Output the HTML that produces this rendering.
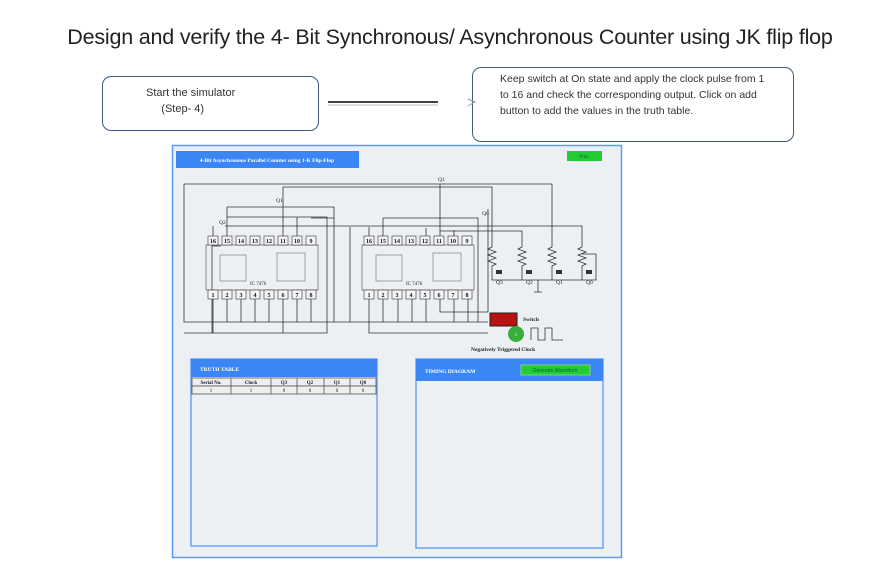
<!DOCTYPE html>
<html><head><meta charset="utf-8"><style>
body{margin:0;width:884px;height:569px;background:#fff;position:relative;overflow:hidden;font-family:"Liberation Sans",sans-serif}
.t{position:absolute;left:0;width:884px;top:25px;text-align:center;font-size:21.5px;color:#222;padding-left:8px;letter-spacing:-0.2px}
.b{position:absolute;border:1px solid #3c5a86;border-radius:9px;background:#fff;font-size:11px;color:#333}
</style></head><body>
<div class="t">Design and verify the 4- Bit Synchronous/ Asynchronous Counter using JK flip flop</div>
<div class="b" style="left:102px;top:76px;width:215px;height:53px"><div style="position:absolute;left:43px;top:8px;line-height:16px">Start the simulator<br>&nbsp;&nbsp;&nbsp;&nbsp;&nbsp;(Step- 4)</div></div>
<div class="b" style="left:472px;top:67px;width:320px;height:73px"><div style="position:absolute;left:27px;top:3px;line-height:16px;width:268px;font-size:10.5px">Keep switch at On state and apply the clock pulse from 1 to 16 and check the corresponding output. Click on add button to add the values in the truth table.</div></div>
<svg style="position:absolute;left:0;top:0" width="884" height="569" font-family="Liberation Serif,serif">
<line x1="328" y1="102" x2="438" y2="102" stroke="#000" stroke-width="1.5"/>
<line x1="328" y1="105" x2="438" y2="105" stroke="#bbb" stroke-width="1"/>
<path d="M468 99 L475 102 L468 106" fill="none" stroke="#999"/>
<rect x="172.5" y="145.5" width="449" height="412" fill="#eceff4" stroke="#5b9bf5" stroke-width="1.5"/>
<rect x="176" y="151" width="183" height="17" fill="#3a86f5"/>
<text x="267" y="162" font-size="5.5" font-weight="bold" fill="#fff" text-anchor="middle">4-Bit Asynchronous Parallel Counter using J-K Flip-Flop</text>
<rect x="567" y="151" width="35" height="10" fill="#22cc33"/>
<text x="584" y="158" font-size="5" fill="#063" text-anchor="middle">Print</text>
<g stroke="#333" stroke-width="0.8" fill="none">
<path d="M184 184 H552 M184 184 V322 H488 M184 333 H213 M227 217 H327 V333 H184 M221 246 H212 V333"/>
<path d="M283 187 V236 M283 187 H492 V236 M440 184 V236 M552 184 V236"/>
<path d="M227 207 H334 V322 M227 207 V236 M213 226 V236 M225 226 H582 V236 M297 217 V236 M311 218 H334"/>
<path d="M350 227 V322 M369 227 V236 M383 218 H478 V322 M383 218 V236 M426 228 V236 M454 230 V236 M488 209 V312 H440 V299 M440 231 H522 V236"/>
<path d="M369 299 V333 H488 M213 299 V333 M227 299 V322 M241 299 V322 M255 299 V322 M269 299 V322 M283 299 V333 M297 299 V322 M311 299 V322 M383 299 V322 M398 299 V322 M412 299 V322 M426 299 V322 M454 299 V322 M468 299 V322"/>
<path d="M492 268 V280 H582 V268 M522 268 V280 M552 268 V280 M582 254 H596 V280 H582 M538 280 V292 M534 292 H542"/>
<path d="M492 236 V247 l-4 2 8 3 -8 3 8 3 -8 3 8 3 -4 2 V268 M522 236 V247 l-4 2 8 3 -8 3 8 3 -8 3 8 3 -4 2 V268 M552 236 V247 l-4 2 8 3 -8 3 8 3 -8 3 8 3 -4 2 V268 M582 236 V247 l-4 2 8 3 -8 3 8 3 -8 3 8 3 -4 2 V268"/>
<path d="M531 340 V328 H538 V340 H545 V328 H552 V340 H563"/>
</g>
<g fill="#333"><rect x="496" y="270" width="6" height="4"/><rect x="526" y="270" width="6" height="4"/><rect x="556" y="270" width="6" height="4"/><rect x="586" y="270" width="6" height="4"/></g>
<g font-size="5.5" fill="#222"><text x="438" y="181">Q1</text><text x="276" y="202">Q1</text><text x="219" y="224">Q2</text><text x="482" y="215">Q0</text>
<text x="496" y="284">Q3</text><text x="526" y="284">Q2</text><text x="556" y="284">Q1</text><text x="586" y="284">Q0</text>
<text x="523" y="321" font-weight="bold">Switch</text><text x="471" y="351" font-weight="bold">Negatively Triggered Clock</text></g>
<g id="c1">
<rect x="206" y="245" width="112" height="45" fill="none" stroke="#444" stroke-width="0.6"/>
<rect x="220" y="255" width="26" height="26" fill="none" stroke="#555" stroke-width="0.5"/>
<rect x="277" y="253" width="28" height="28" fill="none" stroke="#555" stroke-width="0.5"/>
<text x="250" y="285" font-size="5" fill="#222">IC 7476</text>
<g fill="#f4f4f4" stroke="#333" stroke-width="0.6">
<rect x="208" y="236" width="10" height="9"/><rect x="222" y="236" width="10" height="9"/><rect x="236" y="236" width="10" height="9"/><rect x="250" y="236" width="10" height="9"/><rect x="264" y="236" width="10" height="9"/><rect x="278" y="236" width="10" height="9"/><rect x="292" y="236" width="10" height="9"/><rect x="306" y="236" width="10" height="9"/>
<rect x="208" y="290" width="10" height="9"/><rect x="222" y="290" width="10" height="9"/><rect x="236" y="290" width="10" height="9"/><rect x="250" y="290" width="10" height="9"/><rect x="264" y="290" width="10" height="9"/><rect x="278" y="290" width="10" height="9"/><rect x="292" y="290" width="10" height="9"/><rect x="306" y="290" width="10" height="9"/></g>
<g font-size="6" font-weight="bold" fill="#111" text-anchor="middle">
<text x="213" y="243">16</text><text x="227" y="243">15</text><text x="241" y="243">14</text><text x="255" y="243">13</text><text x="269" y="243">12</text><text x="283" y="243">11</text><text x="297" y="243">10</text><text x="311" y="243">9</text>
<text x="213" y="297">1</text><text x="227" y="297">2</text><text x="241" y="297">3</text><text x="255" y="297">4</text><text x="269" y="297">5</text><text x="283" y="297">6</text><text x="297" y="297">7</text><text x="311" y="297">8</text></g>
</g>
<use href="#c1" x="156"/>
<rect x="490" y="313" width="27" height="13" fill="#b11" stroke="#222"/>
<circle cx="516" cy="334" r="8" fill="#3aae3a"/><text x="516" y="336" font-size="5" fill="#fff" text-anchor="middle">1</text>
<rect x="191" y="359" width="186" height="187" fill="none" stroke="#4d8ff5" stroke-width="1.2"/>
<rect x="191" y="359" width="186" height="18" fill="#3a86f5"/>
<text x="200" y="371" font-size="5.5" font-weight="bold" fill="#fff">TRUTH TABLE</text>
<g fill="#eee" stroke="#555" stroke-width="0.8"><rect x="192" y="378" width="184" height="8"/><rect x="192" y="386" width="184" height="8"/></g>
<g stroke="#555" stroke-width="0.8"><path d="M231 378 V394 M271 378 V394 M297 378 V394 M324 378 V394 M350 378 V394"/></g>
<g font-size="5" fill="#222" text-anchor="middle" font-weight="bold"><text x="211" y="384">Serial No.</text><text x="251" y="384">Clock</text><text x="284" y="384">Q3</text><text x="310" y="384">Q2</text><text x="337" y="384">Q1</text><text x="363" y="384">Q0</text></g>
<g font-size="5" fill="#222" text-anchor="middle"><text x="211" y="392">1</text><text x="251" y="392">1</text><text x="284" y="392">0</text><text x="310" y="392">0</text><text x="337" y="392">0</text><text x="363" y="392">0</text></g>
<rect x="416" y="359" width="187" height="189" fill="none" stroke="#4d8ff5" stroke-width="1.2"/>
<rect x="416" y="359" width="187" height="22" fill="#3a86f5"/>
<text x="425" y="373" font-size="5.5" font-weight="bold" fill="#fff">TIMING DIAGRAM</text>
<rect x="521" y="365" width="69" height="10" fill="#22cc33" stroke="#8c8"/>
<text x="555" y="372" font-size="5" fill="#063" text-anchor="middle" font-family="Liberation Sans,sans-serif">Generate Waveform</text>
</svg>
</body></html>
